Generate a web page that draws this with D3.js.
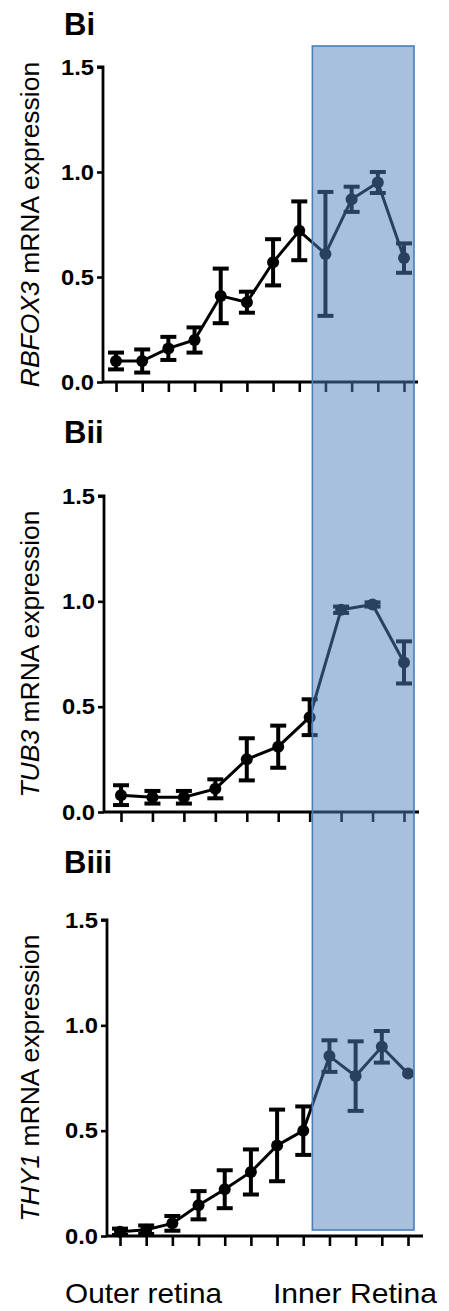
<!DOCTYPE html>
<html>
<head>
<meta charset="utf-8">
<script src="https://cdn.jsdelivr.net/npm/d3@7"></script>
<style>
  body { margin: 0; background: #fff; }
  svg { display: block; font-family: "Liberation Sans", Arial, sans-serif; }
</style>
</head>
<body>
<svg id="chart" width="449" height="1311"></svg>
<script>
// values (mean and error)
const rbfox3Mean = [0.10, 0.10, 0.16, 0.20, 0.41, 0.38, 0.57, 0.72, 0.61, 0.87, 0.95, 0.59];
const rbfox3Err = [0.04, 0.055, 0.055, 0.06, 0.13, 0.05, 0.11, 0.14, 0.295, 0.06, 0.05, 0.07];
const tub3Mean = [0.08, 0.07, 0.07, 0.11, 0.25, 0.31, 0.45, 0.96, 0.985, 0.71];
const tub3Err = [0.047, 0.03, 0.03, 0.045, 0.10, 0.10, 0.085, 0.015, 0.01, 0.10];
const thy1Mean = [0.02, 0.03, 0.06, 0.146, 0.222, 0.304, 0.43, 0.50, 0.854, 0.759, 0.898, 0.771];
const thy1Err = [0.015, 0.02, 0.035, 0.067, 0.09, 0.107, 0.17, 0.115, 0.075, 0.165, 0.075, 0];

const panelTitles = ['Bi', 'Bii', 'Biii'];
const geneNames = ['RBFOX3', 'TUB3', 'THY1'];
const yTicks = [0, 0.5, 1.0, 1.5];
const regionLabels = ['Outer retina', 'Inner Retina'];

const svg = d3.select('#chart');

// layout of each panel on the page
const layout = [
  { axisX: 103, x0: 116, x1: 404, axisEnd: 418, yBottom: 382, yTop: 67, titleY: 35 },
  { axisX: 104, x0: 121, x1: 404, axisEnd: 419, yBottom: 812, yTop: 496, titleY: 443 },
  { axisX: 107, x0: 120, x1: 408, axisEnd: 423, yBottom: 1236, yTop: 920, titleY: 873 },
];
const series = [
  [rbfox3Mean, rbfox3Err],
  [tub3Mean, tub3Err],
  [thy1Mean, thy1Err],
];

const scales = [];

series.forEach(([mean, err], p) => {
  const L = layout[p];
  const data = mean.map((m, i) => ({ i, m, e: err[i] }));

  const x = d3.scalePoint().domain(d3.range(mean.length)).range([L.x0, L.x1]);
  const y = d3.scaleLinear().domain([0, 1.5]).range([L.yBottom, L.yTop]);
  scales.push({ x, y });

  const g = svg.append('g');

  // title
  g.append('text')
    .attr('x', 64)
    .attr('y', L.titleY)
    .attr('font-size', 31)
    .attr('font-weight', 'bold')
    .text(panelTitles[p]);

  // y axis
  const yAxis = g.append('g')
    .attr('transform', `translate(${L.axisX},0)`)
    .call(d3.axisLeft(y).tickValues(yTicks).tickFormat(d3.format('.1f')).tickSize(6).tickPadding(3));
  yAxis.select('.domain').attr('stroke-width', 2.8).attr('d', `M-6,${L.yTop}H0V${L.yBottom}`);
  yAxis.selectAll('.tick line').attr('stroke-width', 2.6);
  yAxis.selectAll('.tick text')
    .attr('font-size', 22)
    .attr('font-weight', 'bold')
    .attr('fill', '#000')
    .attr('textLength', 33)
    .attr('lengthAdjust', 'spacingAndGlyphs')
    .attr('font-family', '"Liberation Sans", Arial, sans-serif');

  // x axis
  const xAxis = g.append('g')
    .attr('transform', `translate(0,${L.yBottom})`)
    .call(d3.axisBottom(x).tickSize(10).tickFormat(''));
  xAxis.select('.domain').attr('stroke-width', 2.8).attr('d', `M${L.axisX},0H${L.axisEnd}`);
  xAxis.selectAll('.tick line').attr('stroke-width', 2.6);

  // y label
  const lab = g.append('text')
    .attr('transform', `translate(39,${(L.yTop + L.yBottom) / 2}) rotate(-90)`)
    .attr('text-anchor', 'middle')
    .attr('font-size', 26.5);
  lab.append('tspan').attr('font-style', 'italic').text(geneNames[p]);
  lab.append('tspan').text(' mRNA expression');

  // connecting line
  g.append('path')
    .datum(data)
    .attr('fill', 'none')
    .attr('stroke', '#000')
    .attr('stroke-width', 3)
    .attr('d', d3.line().x(d => x(d.i)).y(d => y(d.m)));

  // error bars
  const eb = g.selectAll('.eb').data(data.filter(d => d.e > 0)).join('g').attr('class', 'eb');
  eb.append('line')
    .attr('x1', d => x(d.i)).attr('x2', d => x(d.i))
    .attr('y1', d => y(d.m - d.e)).attr('y2', d => y(d.m + d.e))
    .attr('stroke', '#000').attr('stroke-width', 4);
  [-1, 1].forEach(s => {
    eb.append('line')
      .attr('x1', d => x(d.i) - 8).attr('x2', d => x(d.i) + 8)
      .attr('y1', d => y(d.m + s * d.e)).attr('y2', d => y(d.m + s * d.e))
      .attr('stroke', '#000').attr('stroke-width', 4);
  });

  // markers
  g.selectAll('.pt').data(data).join('circle')
    .attr('class', 'pt')
    .attr('cx', d => x(d.i))
    .attr('cy', d => y(d.m))
    .attr('r', 6)
    .attr('fill', '#000');
});

// inner retina highlight spanning all panels
const s0 = scales[0], s2 = scales[2];
const boxLeft = (s0.x(7) + s0.x(8)) / 2;
const boxRight = s0.x(11) + 10;
const boxTop = s0.y(1.5) - 21;
const boxBottom = s2.y(0) - 6;
svg.append('rect')
  .attr('x', boxLeft)
  .attr('y', boxTop)
  .attr('width', boxRight - boxLeft)
  .attr('height', boxBottom - boxTop)
  .attr('fill', '#4f81bd')
  .attr('fill-opacity', 0.5)
  .attr('stroke', '#4a7ebb')
  .attr('stroke-width', 1.6);

// region labels under the last panel
const labelPos = [[143.5, 157], [355, 164]];
svg.selectAll('.region').data(regionLabels).join('text')
  .attr('class', 'region')
  .attr('x', (d, i) => labelPos[i][0])
  .attr('y', 1303)
  .attr('text-anchor', 'middle')
  .attr('font-size', 28)
  .attr('textLength', (d, i) => labelPos[i][1])
  .attr('lengthAdjust', 'spacingAndGlyphs')
  .text(d => d);
</script>
</body>
</html>
